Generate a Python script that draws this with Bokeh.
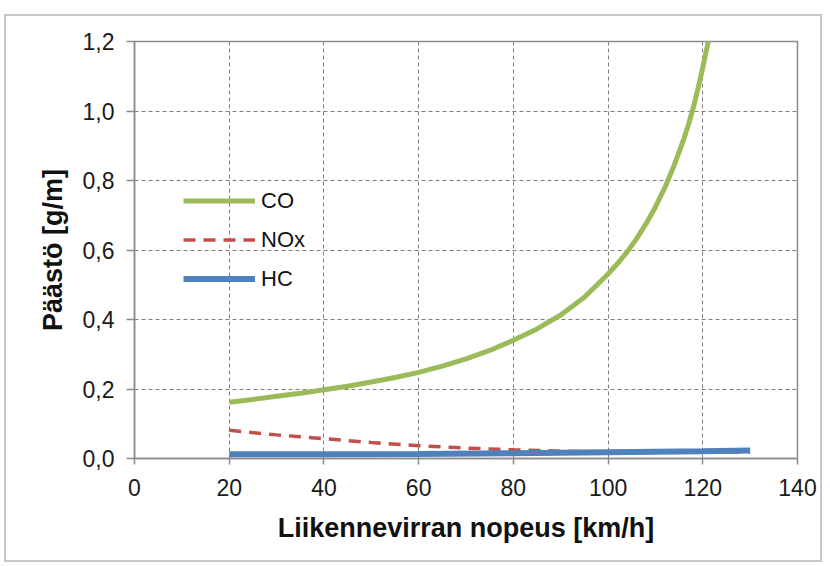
from bokeh.plotting import figure
from bokeh.models import Range1d, FixedTicker, CustomJSTickFormatter, Legend, LegendItem
from bokeh.embed import file_html
from bokeh.resources import INLINE

# ---- data ----
co_speed = [20, 25, 30, 35, 40, 45, 50, 55, 60, 65, 70, 75, 80, 85, 90, 95, 100,
            102, 104, 106, 108, 110, 112, 114, 116, 117, 118, 119, 120, 121, 122]
co_value = [0.162, 0.170, 0.179, 0.188, 0.198, 0.208, 0.220, 0.233, 0.248, 0.266, 0.287, 0.311,
            0.340, 0.373, 0.413, 0.464, 0.531, 0.561, 0.594, 0.632, 0.675, 0.724, 0.780, 0.845,
            0.920, 0.962, 1.010, 1.065, 1.125, 1.190, 1.260]

nox_speed = [20, 30, 40, 50, 60, 70, 80, 90, 100, 110, 120, 130]
nox_value = [0.081, 0.068, 0.057, 0.046, 0.037, 0.030, 0.025, 0.021, 0.019, 0.018, 0.018, 0.019]

hc_speed = [20, 40, 60, 80, 100, 120, 130]
hc_value = [0.012, 0.012, 0.013, 0.015, 0.018, 0.021, 0.023]

x_ticks = [0, 20, 40, 60, 80, 100, 120, 140]
y_ticks = [0.0, 0.2, 0.4, 0.6, 0.8, 1.0, 1.2]

series_names = ["CO", "NOx", "HC"]
x_title = "Liikennevirran nopeus [km/h]"
y_title = "Päästö [g/m]"

FONT = "Liberation Sans"

p = figure(width=818, height=548, output_backend="svg", toolbar_location=None,
           x_range=Range1d(0, 140), y_range=Range1d(0, 1.2),
           min_border_left=128, min_border_right=27, min_border_top=25, min_border_bottom=106)
p.styles = {"margin-left": "4px", "margin-top": "14px", "border": "2px solid #c8c8c8"}
p.background_fill_color = "white"
p.border_fill_color = "white"
p.outline_line_color = "#8c8c8c"
p.outline_line_width = 1.5

# axes
for ax in (p.xaxis[0], p.yaxis[0]):
    ax.axis_line_color = "#8c8c8c"
    ax.axis_line_width = 1.5
    ax.major_tick_line_color = "#8c8c8c"
    ax.major_tick_line_width = 1.5
    ax.major_tick_in = 0
    ax.minor_tick_line_color = None
    ax.major_label_text_font = FONT
    ax.major_label_text_font_size = "23px"
    ax.major_label_text_color = "#1a1a1a"
    ax.axis_label_text_font = FONT
    ax.axis_label_text_font_style = "bold"
    ax.axis_label_text_font_size = "27px"
    ax.axis_label_text_color = "#111111"

p.xaxis.ticker = FixedTicker(ticks=x_ticks)
p.yaxis.ticker = FixedTicker(ticks=y_ticks)
p.yaxis.formatter = CustomJSTickFormatter(code="return tick.toFixed(1).replace('.', ',');")
p.xaxis.major_tick_out = 6
p.yaxis.major_tick_out = 8
p.xaxis.major_label_standoff = 14
p.yaxis.major_label_standoff = 12
p.xaxis.axis_label = x_title
p.yaxis.axis_label = y_title
p.xaxis.axis_label_standoff = 14
p.yaxis.axis_label_standoff = 12

# grid
for g in (p.xgrid[0], p.ygrid[0]):
    g.grid_line_color = "#7f7f7f"
    g.grid_line_dash = "4 3"
    g.grid_line_width = 1
p.xgrid.ticker = FixedTicker(ticks=x_ticks)
p.ygrid.ticker = FixedTicker(ticks=y_ticks)

# lines
co = p.line(co_speed, co_value, line_color="#9BBB59", line_width=5, line_join="round")
nox = p.line(nox_speed, nox_value, line_color="#C0504D", line_width=3.5, line_dash="12 8")
hc = p.line(hc_speed, hc_value, line_color="#4F81BD", line_width=6)

legend = Legend(items=[LegendItem(label=series_names[0], renderers=[co]),
                       LegendItem(label=series_names[1], renderers=[nox]),
                       LegendItem(label=series_names[2], renderers=[hc])],
                location=(49, 160), orientation="vertical",
                glyph_width=72, glyph_height=39, label_height=39, spacing=0,
                padding=0, margin=0, label_standoff=6,
                label_text_font=FONT, label_text_font_size="22px", label_text_color="#111111",
                border_line_color=None, background_fill_alpha=0)
p.add_layout(legend, "center")

open("out.html", "w").write(file_html(p, INLINE))
